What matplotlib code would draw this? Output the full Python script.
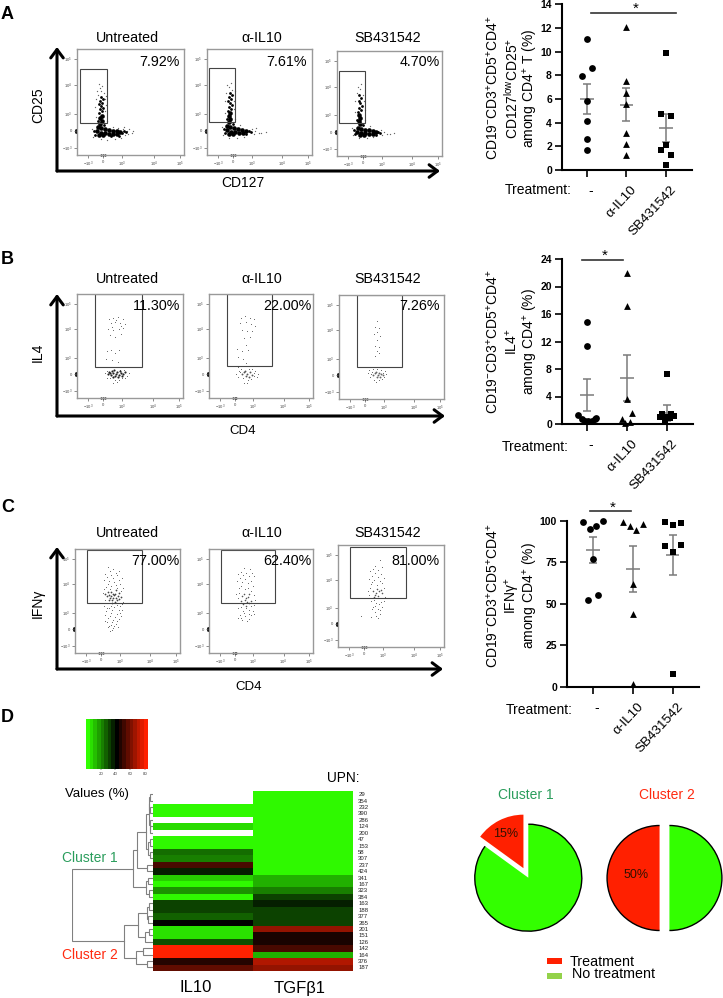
import numpy as np
import matplotlib
matplotlib.use("Agg")
import matplotlib.pyplot as plt
from matplotlib.colors import LinearSegmentedColormap, Normalize
from matplotlib.cm import ScalarMappable
from matplotlib.patches import Rectangle, Arc
from matplotlib.transforms import ScaledTranslation

plt.rcParams['font.family'] = ['Liberation Sans', 'DejaVu Sans']
plt.rcParams['mathtext.fontset'] = 'custom'
plt.rcParams['mathtext.rm'] = 'Liberation Sans'
plt.rcParams['mathtext.it'] = 'Liberation Sans:italic'
plt.rcParams['mathtext.bf'] = 'Liberation Sans:bold'
plt.rcParams['mathtext.default'] = 'regular'

# ---------- dot plot data ----------
A_g1_x = [1, 1.12, 0.865, 1, 1, 1, 1]
A_g1_y = [11.05, 8.65, 7.9, 5.8, 4.1, 2.6, 1.7]
A_g2_x = [2, 2, 2, 2, 2, 2, 2]
A_g2_y = [12.05, 7.55, 6.5, 5.6, 3.1, 2.2, 1.3]
A_g3_x = [3, 2.865, 3.13, 3, 2.865, 3.13, 3]
A_g3_y = [9.85, 4.7, 4.6, 2.15, 1.65, 1.3, 0.45]
A_mean = [6.0, 5.5, 3.55]
A_low = [4.7, 4.15, 2.35]
A_high = [7.3, 6.9, 4.7]

B_g1_x = [1, 1, 0.78, 0.87, 0.95, 1.03, 1.11, 1.19, 1.22]
B_g1_y = [14.8, 11.3, 1.25, 0.8, 0.5, 0.4, 0.5, 0.75, 0.85]
B_g2_x = [2, 2, 2, 2.13, 1.87, 2.08, 1.96]
B_g2_y = [22.0, 17.1, 3.6, 1.6, 0.8, 0.3, 0.2]
B_g3_x = [3, 2.83, 2.89, 3.0, 3.11, 3.19, 2.96, 3.07]
B_g3_y = [7.25, 1.0, 1.45, 1.05, 1.5, 1.15, 0.6, 0.85]
B_mean = [4.2, 6.7, 1.6]
B_low = [1.95, 3.3, 0.4]
B_high = [6.55, 10.05, 2.8]

C_g1_x = [0.75, 0.92, 1.08, 1.26, 1.01, 0.88, 1.13]
C_g1_y = [99.2, 95.0, 97.0, 99.6, 77.0, 52.4, 55.2]
C_g2_x = [1.75, 1.92, 2.08, 2.25, 2, 2, 2]
C_g2_y = [99.0, 96.8, 94.4, 98.0, 61.6, 43.8, 1.6]
C_g3_x = [2.8, 3, 3.21, 2.8, 3.21, 3, 3]
C_g3_y = [99.4, 97.2, 98.6, 84.7, 85.3, 81.0, 7.6]
C_mean = [82.2, 71.0, 79.3]
C_low = [74.5, 57.0, 67.0]
C_high = [90.2, 85.0, 91.5]

groups = ['-', 'α-IL10', 'SB431542']

# ---------- heatmap data ----------
upn = [29, 354, 232, 390, 286, 124, 200, 47, 153, 58, 307, 237, 424, 341,
       167, 323, 384, 163, 188, 377, 265, 201, 151, 126, 142, 164, 376, 187]
il10 = [np.nan, np.nan, 1, 1, np.nan, 6, np.nan, 1, 1, 24, 21, 54, 37, 8,
        1, 18, 1, 31, 31, 26, 42, 5, 5, 29, 84, 84, 48, 58]
tgfb = [1, 1, 1, 1, 1, 1, 1, 1, 1, 1, 1, 1, 1, 13,
        13, 21, 31, 37, 31, 31, 31, 66, 46, 46, 54, 13, 71, 66]
# tree nodes: (height, child, child); integers are rows of the heatmap
top = (19, (12, (10, (9, 0, 1), (8, 2, 3)), (9, 4, (8, 5, 6))), (14, (7, 7, 8), (7, 9, 10)))
c1_up = (47, top, (17, 11, 12))
c1_low = (20, (13, 13, 14), (12, 15, 16))
cluster1 = (60, c1_up, c1_low)
c2_up = (44, (18, (11, 17, 18), (14, 19, 20)), (22, (12, 21, 22), 23))
c2_low = (49, (29, 24, 25), (17, 26, 27))
cluster2 = (87, c2_up, c2_low)
tree = (242, cluster1, cluster2)

pie_c1 = [15, 85]
pie_c2 = [50, 50]

# ---------- flow cytometry clouds (read by eye; x, y inside each 0-106 plot) ----------
fa_core = [
 [(21,78),(24,79),(28,80),(32,81),(36,82),(40,82),(43,83),(20,82),(24,84),(28,84),(32,85),(36,85),(40,85),(22,86),(26,86),(23,75),(25,72),(23,69),(25,67)],
 [(20,77),(23,78),(27,79),(31,80),(35,81),(39,82),(20,81),(24,83),(28,83),(32,84),(36,84),(22,85),(26,85),(22,73),(23,70),(22,67),(23,64)],
 [(21,78),(24,79),(28,80),(32,80),(36,81),(39,82),(20,82),(24,83),(28,83),(32,84),(36,84),(23,85),(27,85),(23,74),(22,71),(23,68),(22,65)]]
fa_mid = [
 [(22,64),(25,62),(23,60),(26,59),(24,57),(22,55),(25,54),(23,52),(26,50),(24,48),(21,72),(27,76),(45,84),(47,82),(49,83),(17,82),(18,86),(42,87),(34,87)],
 [(21,62),(24,60),(22,58),(25,56),(23,54),(21,52),(24,50),(22,48),(25,46),(23,44),(20,70),(26,75),(42,82),(44,83),(17,80),(18,84),(39,85)],
 [(21,62),(24,60),(22,58),(25,56),(23,53),(22,50),(24,47),(22,44),(20,70),(26,75),(41,82),(43,83),(17,80),(18,84),(39,85)]]
fa_sparse = [
 [(24,42),(21,46),(27,44),(19,50),(28,50),(18,58),(29,56),(25,37),(23,39),(28,62),(46,80),(50,82),(54,84),(48,86),(52,80),(44,89),(38,90),(30,91),(24,90),(16,88),(15,80),(47,78),(30,72),(19,68),(55,82),(51,85),(22,35),(29,47),(20,42),(36,78),(41,79)],
 [(22,38),(25,41),(19,44),(26,46),(18,52),(27,52),(24,34),(20,36),(27,60),(45,80),(48,82),(52,84),(47,85),(49,79),(37,88),(30,89),(22,89),(16,86),(15,78),(55,84),(28,70),(18,64),(60,83),(28,42),(33,76)],
 [(23,38),(20,42),(26,44),(18,50),(27,50),(24,33),(21,36),(28,60),(44,80),(47,82),(50,84),(45,85),(36,87),(30,88),(22,88),(16,85),(15,78),(54,84),(28,70),(18,62),(58,83),(33,76)]]
fb_core = [
 [(32,79),(36,81),(40,79),(44,81),(34,83),(38,84),(42,83),(46,82),(37,77),(41,85),(31,82),(48,80),(35,78),(39,82),(43,78),(33,81),(45,84),(36,85)],
 [(36,80),(39,82),(42,80),(38,84),(41,85),(34,82),(44,83),(37,78)],
 [(36,80),(39,82),(42,81),(38,84),(41,84),(34,82),(44,82),(37,78),(40,79)]]
fb_sparse = [
 [(32,25),(36,24),(41,23),(46,25),(34,30),(38,29),(43,30),(48,31),(31,36),(36,37),(42,36),(46,35),(33,42),(38,44),(44,41),(30,58),(34,57),(38,60),(42,57),(29,66),(35,67),(41,69),(30,78),(33,86),(38,88),(45,86),(50,84),(43,77),(47,77),(28,81),(36,74),(40,90),(39,26),(44,33),(35,34),(30,86),(48,86),(42,88),(36,91),(52,81)],
 [(33,24),(37,22),(42,24),(46,25),(32,30),(38,29),(43,31),(47,33),(34,37),(39,38),(44,38),(36,45),(42,44),(29,56),(34,58),(38,52),(40,57),(30,64),(35,66),(38,70),(31,78),(35,86),(40,88),(46,84),(50,82),(28,82),(47,78),(30,74),(44,76),(36,91),(32,80),(46,81),(30,85),(43,87),(49,85),(39,91),(33,76),(41,76)],
 [(38,26),(36,33),(40,34),(38,38),(35,40),(41,42),(38,46),(36,52),(40,53),(38,57),(36,62),(40,59),(30,76),(33,78),(46,77),(31,84),(35,87),(40,87),(45,84),(29,80),(47,81),(38,75),(32,81),(44,79),(34,75),(42,76),(37,89),(43,86)]]
fc_core = [
 [(33,44),(36,48),(40,46),(44,45),(34,52),(38,50),(42,52),(46,49),(32,48),(37,55),(41,42),(39,47),(36,44),(43,48),(35,50),(41,50),(38,46),(37,52),(40,54),(34,47),(44,51),(30,46)],
 [(34,48),(37,52),(40,49),(43,53),(35,56),(38,58),(41,46),(33,53),(38,50),(36,46),(41,55),(39,54)],
 [(35,48),(38,50),(41,48),(44,50),(36,54),(40,53),(43,47),(39,46),(37,52)]]
fc_sparse = [
 [(33,18),(38,20),(44,22),(30,25),(36,26),(42,27),(47,30),(29,32),(34,33),(39,34),(45,36),(31,39),(36,38),(48,40),(28,45),(30,52),(48,54),(29,58),(34,60),(39,59),(45,58),(31,63),(36,65),(42,66),(47,62),(33,70),(38,72),(44,71),(30,73),(36,77),(41,76),(33,80),(38,81),(43,79),(35,84),(46,68),
  (35,22),(41,24),(32,29),(38,30),(44,32),(33,36),(41,37),(29,41),(35,41),(42,40),(46,43),(31,55),(36,58),(42,57),(47,56),(32,60),(37,62),(44,62),(30,67),(35,68),(40,69),(45,65),(32,74),(37,74),(42,73),(34,78),(39,78),(37,83)],
 [(36,19),(42,20),(30,25),(35,27),(41,28),(46,28),(29,33),(34,34),(40,35),(45,38),(31,40),(37,41),(43,43),(28,46),(29,55),(46,57),(30,60),(35,63),(41,62),(45,63),(32,67),(37,68),(43,67),(34,72),(39,73),(30,70),
  (33,23),(38,24),(44,24),(32,30),(37,31),(43,33),(33,38),(40,40),(31,45),(46,47),(30,50),(47,52),(33,59),(38,60),(43,58),(36,65),(41,66),(46,66),(33,70),(41,71)],
 [(42,16),(37,22),(44,23),(32,27),(37,29),(43,30),(31,35),(36,36),(42,37),(46,34),(33,41),(39,42),(31,52),(46,58),(33,58),(38,60),(43,59),(35,64),(40,66),(44,64),(37,70),(42,68),(23,74),(33,75),(40,76),
  (35,25),(40,26),(34,32),(40,33),(34,38),(44,40),(32,45),(46,45),(30,48),(47,54),(36,57),(41,61),(37,63),(34,67),(42,72),(38,74)]]

gates = [[(3, 20, 27, 54), (2, 19, 26, 54), (2, 20, 26, 53)],
         [(18, 0, 47, 74), (18, 0, 46, 73), (18, 0, 46, 73)],
         [(12, 1, 56, 54), (12, 1, 55, 54), (12, 2, 56, 53)]]
percents = [['7.92%', '7.61%', '4.70%'],
            ['11.30%', '22.00%', '7.26%'],
            ['77.00%', '62.40%', '81.00%']]
flow_titles = ['Untreated', 'α-IL10', 'SB431542']
flow_ticks = [10, 36, 65, 82, 99]
flow_xticks = [11, 26, 45, 76, 102]
flow_minor = [5, 8, 14, 18, 21, 24, 29, 33, 37, 41, 50, 55, 60, 65, 70, 82, 88, 93, 97]

W, H = 723, 998
fig = plt.figure(figsize=(W / 100, H / 100), dpi=100, facecolor='white')


def ax_px(x0, y0, x1, y1):
    return fig.add_axes([x0 / W, 1 - y1 / H, (x1 - x0) / W, (y1 - y0) / H])


# ---------- flow panels ----------
boxes = [[(77, 49, 184, 155), (207, 49, 312, 155), (337, 51, 442, 156)],
         [(77, 294, 183, 398), (209, 294, 313, 398), (339, 295, 444, 399)],
         [(75, 549, 180, 653), (209, 549, 313, 653), (338, 545, 444, 647)]]
core_sets = [fa_core, fb_core, fc_core]
mid_sets = [fa_mid, [[], [], []], [[], [], []]]
sparse_sets = [fa_sparse, fb_sparse, fc_sparse]
core_style = [[(11, '#000000')] * 3,
              [(2.4, '#222222'), (1.8, '#555555'), (1.8, '#666666')],
              [(1.6, '#444444'), (1.3, '#555555'), (1.3, '#555555')]]
sparse_size = [0.9, 0.5, 0.5]
for r in range(3):
    for c in range(3):
        ax = ax_px(*boxes[r][c])
        ax.set_xlim(0, 106)
        ax.set_ylim(106, 0)
        for s in ax.spines.values():
            s.set_color('#999999')
            s.set_linewidth(1.0)
        ax.set_xticks(flow_xticks, ['$-10^{3}$', '0', '$10^{3}$', '$10^{4}$', '$10^{5}$'])
        ax.set_xticks(flow_minor, minor=True)
        ax.set_yticks(flow_ticks, ['$10^{5}$', '$10^{4}$', '$10^{3}$', '0', '$-10^{3}$'])
        ax.tick_params(axis='both', which='major', length=2, width=0.4, labelsize=3, pad=1.5,
                       color='#333333', labelcolor='#444444')
        ax.tick_params(axis='x', which='minor', length=1, width=0.3, color='#333333')
        sx, sy = zip(*sparse_sets[r][c])
        ax.scatter(sx, sy, s=sparse_size[r], color='#666666', linewidths=0)
        if mid_sets[r][c]:
            mx, my = zip(*mid_sets[r][c])
            ax.scatter(mx, my, s=4, color='black', linewidths=0)
        kx, ky = zip(*core_sets[r][c])
        size, col = core_style[r][c]
        ax.scatter(kx, ky, s=size, color=col, linewidths=0)
        ax.scatter([-1, -1], [81, 83], s=4, color='black', linewidths=0, clip_on=False)
        ax.scatter([24, 26, 28], [106, 106, 106], s=2.5, color='black', linewidths=0, clip_on=False)
        ax.add_patch(Rectangle(gates[r][c][:2], gates[r][c][2], gates[r][c][3], fill=False,
                               edgecolor='#444444', linewidth=0.8))


# ---------- dot plots ----------
def dotplot(box, xlim, ylim, yticks, xs, ys, mean, low, high, bracket):
    ax = ax_px(*box)
    ax.set_xlim(*xlim)
    ax.set_ylim(*ylim)
    for s in ('top', 'right'):
        ax.spines[s].set_visible(False)
    for s in ('left', 'bottom'):
        ax.spines[s].set_linewidth(1.5)
    ax.patch.set_alpha(0)
    ax.set_yticks(yticks)
    ax.set_xticks([1, 2, 3], groups)
    ax.tick_params(axis='y', length=5, width=1.2, pad=2)
    ax.tick_params(axis='x', length=5, width=1.2, pad=5)
    for t in ax.get_yticklabels():
        t.set_fontsize(7.5)
        t.set_fontweight('bold')
    shift = ScaledTranslation(4 / 100, 0, fig.dpi_scale_trans)
    labels = ax.get_xticklabels()
    labels[0].set_fontsize(10)
    labels[0].set_transform(labels[0].get_transform() + shift)
    for t in labels[1:]:
        t.set_fontsize(9.7)
        t.set_rotation(47)
        t.set_ha('right')
        t.set_va('top')
        t.set_rotation_mode('anchor')
        t.set_transform(t.get_transform() + shift)
    for q, lo, hi, m in zip([1, 2, 3], low, high, mean):
        ax.errorbar([q], [m], yerr=[[m - lo], [hi - m]], color='#7a7a7a', elinewidth=1.1,
                    capsize=3, capthick=1.1, zorder=2)
        ax.hlines(m, q - 0.17, q + 0.17, color='#7a7a7a', linewidth=1.1, zorder=2)
    for x, y, m, sz in zip(xs, ys, ['o', '^', 's'], [24, 24, 20]):
        ax.scatter(x, y, marker=m, s=sz, color='black', linewidths=0, zorder=3, clip_on=False)
    bx0, bx1, by = bracket
    ax.plot([bx0, bx1], [by, by], color='#333333', lw=1.2, clip_on=False)
    return ax


dotplot((561.7, 4.3, 692, 170), (0.36, 3.66), (0, 14), range(0, 15, 2),
        [A_g1_x, A_g2_x, A_g3_x], [A_g1_y, A_g2_y, A_g3_y], A_mean, A_low, A_high, (1.09, 3.25, 13.3))
dotplot((561.7, 259, 693, 424), (0.36, 3.66), (0, 24), range(0, 25, 4),
        [B_g1_x, B_g2_x, B_g3_x], [B_g1_y, B_g2_y, B_g3_y], B_mean, B_low, B_high, (0.86, 1.9, 23.8))
dotplot((566.7, 520.7, 699, 686.7), (0.34, 3.66), (0, 100), range(0, 101, 25),
        [C_g1_x, C_g2_x, C_g3_x], [C_g1_y, C_g2_y, C_g3_y], C_mean, C_low, C_high, (0.92, 1.96, 106))

# ---------- heatmap ----------
cmap = LinearSegmentedColormap.from_list('gbr', [(0.19, 1, 0), (0, 0, 0), (1, 0.13, 0)])
norm = Normalize(0, 84)
cmap_bad = cmap.copy()
cmap_bad.set_bad('white')
hm = ax_px(152.7, 791, 352.7, 970.7)
hm.imshow(np.array([il10, tgfb]).T, cmap=cmap_bad, norm=norm, aspect='auto', interpolation='nearest')
for s in hm.spines.values():
    s.set_visible(False)
hm.set_xticks([])
hm.yaxis.tick_right()
hm.set_yticks(range(len(upn)), [str(u) for u in upn])
hm.tick_params(axis='y', length=0, labelsize=4.3, pad=4, labelcolor='#222222')

# dendrogram, same rows as the heatmap
den = ax_px(71.7, 791, 152.7, 970.7)
den.set_xlim(243, 0)
den.set_ylim(27.5, -0.5)
den.axis('off')


def draw(node):
    if not isinstance(node, tuple):
        return node, 0
    h, a, b = node
    ya, ha = draw(a)
    yb, hb = draw(b)
    den.plot([ha, h, h, hb], [ya, ya, yb, yb], color='#808080', lw=0.8, solid_joinstyle='miter')
    return (ya + yb) / 2, h


draw(tree)

# colour key
cb = ax_px(86, 719.3, 147.7, 769)
fig.colorbar(ScalarMappable(norm, cmap.resampled(17)), cax=cb, orientation='horizontal',
             ticks=[20, 40, 60, 80])
cb.tick_params(length=1, width=0.3, labelsize=3.2, pad=1, labelcolor='#444444')
for s in cb.spines.values():
    s.set_visible(False)


# ---------- pies ----------
def pie(cx, cy, sizes, explode, r=53.5, start=90):
    k = 1.4
    ax = ax_px(cx - k * r, cy - k * r, cx + k * r, cy + k * r)
    wedges, _ = ax.pie(sizes, colors=['#ff2000', '#33ff00'], explode=explode, startangle=start,
                       radius=1, wedgeprops={'linewidth': 0})
    ax.set_xlim(-k, k)
    ax.set_ylim(-k, k)
    ax.set_aspect('equal')
    return ax, wedges


ax1, w1 = pie(528.3, 877.7, pie_c1, [0.2, 0])
g = w1[1]
ax1.add_patch(Arc(g.center, 2 * g.r, 2 * g.r, theta1=g.theta1, theta2=g.theta2, color='black', lw=1.0))
ax1.text(-0.42, 0.81, '15%', ha='center', va='center', fontsize=9, color='#331100')
ax2, w2 = pie(664.5, 878, pie_c2, [0.094, 0.094], r=52.5)
for g in w2:
    ax2.add_patch(Arc(g.center, 2 * g.r, 2 * g.r, theta1=g.theta1, theta2=g.theta2, color='black', lw=1.0))
ax2.text(-0.55, 0.06, '50%', ha='center', va='center', fontsize=9, color='#331100')

# ---------- overlay for labels and arrows ----------
ov = fig.add_axes([0, 0, 1, 1], zorder=10)
ov.set_xlim(0, W)
ov.set_ylim(H, 0)
ov.axis('off')
ov.patch.set_alpha(0)


def T(x, y, s, size=10, ha='center', va='center', **kw):
    ov.text(x, y, s, fontsize=size, ha=ha, va=va, **kw)


for lab, y in zip('ABCD', [14, 260, 507, 718]):
    T(1, y, lab, size=13, ha='left', fontweight='bold')

title_y = [38, 279, 533]
title_x = [127, 262, 388]
pct_y = [62, 306, 561]
pct_x = [[180, 307, 440], [180, 311, 440], [180, 311, 439]]
for r in range(3):
    for c in range(3):
        T(title_x[c], title_y[r], flow_titles[c], size=10.3)
        T(pct_x[r][c], pct_y[r], percents[r][c], size=10.3, ha='right')

T(243, 183, 'CD127', size=10)
T(243, 431, 'CD4', size=9.5)
T(249, 687, 'CD4', size=9.5)
T(38, 105, 'CD25', size=10, rotation=90)
T(38, 352, 'IL4', size=10, rotation=90)
T(38, 603, 'IFNγ', size=10, rotation=90)

arrows = [(57, 171, 57, 47, 440), (57, 416, 57, 294, 445), (57, 669, 57, 547, 443)]
for x0, y0, x1, y1, xe in arrows:
    for end in [(x1, y1), (xe, y0)]:
        ov.annotate('', xy=end, xytext=(x0, y0), xycoords='data', textcoords='data',
                    arrowprops=dict(arrowstyle='->,head_length=0.6,head_width=0.45', lw=2.2,
                                    color='black', shrinkA=0, shrinkB=0))

# dot plot y titles
ylab_x = [493, 512, 531]
y_a = ['CD19$^{-}$CD3$^{+}$CD5$^{+}$CD4$^{+}$', 'CD127$^{low}$CD25$^{+}$', 'among CD4$^{+}$ T (%)']
y_b = ['CD19$^{-}$CD3$^{+}$CD5$^{+}$CD4$^{+}$', 'IL4$^{+}$', 'among CD4$^{+}$ (%)']
y_c = ['CD19$^{-}$CD3$^{+}$CD5$^{+}$CD4$^{+}$', 'IFNγ$^{+}$', 'among CD4$^{+}$ (%)']
for labs, yc in zip([y_a, y_b, y_c], [88, 342, 596]):
    for x, s in zip(ylab_x, labs):
        T(x, yc, s, size=10, rotation=90)

for x, y in [(505, 190), (502, 447), (506, 710)]:
    T(x, y, 'Treatment:', size=10, ha='left')
T(636, 9, '*', size=11)
T(605, 256, '*', size=11)
T(613, 508, '*', size=11)

T(65, 794, 'Values (%)', size=9.5, ha='left')
T(327, 778, 'UPN:', size=9.8, ha='left')
T(62, 858, 'Cluster 1', size=10, ha='left', color='#2a9d5c')
T(62, 955, 'Cluster 2', size=10, ha='left', color='#ff2a10')
T(196, 988, 'IL10', size=12)
T(300, 988, 'TGFβ1', size=12)
T(526, 795, 'Cluster 1', size=10, color='#2a9d5c')
T(667, 795, 'Cluster 2', size=10, color='#ff2a10')
ov.add_patch(Rectangle((546.7, 957.7), 15, 6.5, color='#ff2000', lw=0))
ov.add_patch(Rectangle((546.7, 972.7), 15, 6.5, color='#93d24a', lw=0))
T(570, 961.7, 'Treatment', size=10.3, ha='left')
T(572.3, 974, 'No treatment', size=10.3, ha='left')

fig.savefig('out.png', dpi=100)
